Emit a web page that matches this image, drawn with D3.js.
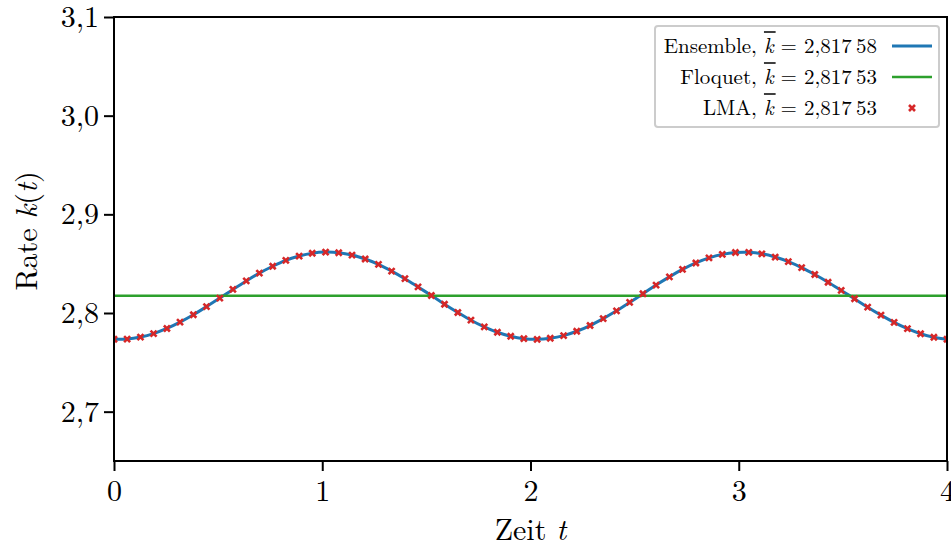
<!DOCTYPE html>
<html>
<head>
<meta charset="utf-8">
<script src="https://cdn.jsdelivr.net/npm/d3@7"></script>
<style>
  body { margin: 0; background: #fff; }
  svg { display: block; }
  text { font-family: "Latin Modern Roman", "CMU Serif", "Liberation Serif", serif; fill: #000; }
</style>
</head>
<body>
<script>
// time points of the LMA samples
var timeValues = [0, 0.063, 0.127, 0.190, 0.254, 0.317, 0.381, 0.444, 0.508, 0.571, 0.635, 0.698, 0.762, 0.825, 0.889, 0.952,
  1.016, 1.079, 1.143, 1.206, 1.270, 1.333, 1.397, 1.460, 1.524, 1.587, 1.651, 1.714, 1.778, 1.841, 1.905, 1.968,
  2.032, 2.095, 2.159, 2.222, 2.286, 2.349, 2.413, 2.476, 2.540, 2.603, 2.667, 2.730, 2.794, 2.857, 2.921, 2.984,
  3.048, 3.111, 3.175, 3.238, 3.302, 3.365, 3.429, 3.492, 3.556, 3.619, 3.683, 3.746, 3.810, 3.873, 3.937, 4.000]
// rate k(t)
var rateValues = [2.7734, 2.7736, 2.7756, 2.7791, 2.7843, 2.7907, 2.7982, 2.8064, 2.8151, 2.8239, 2.8325, 2.8404, 2.8474, 2.8533, 2.8577, 2.8606,
  2.8617, 2.8611, 2.8587, 2.8547, 2.8493, 2.8425, 2.8348, 2.8264, 2.8177, 2.8089, 2.8005, 2.7927, 2.7860, 2.7805, 2.7764, 2.7740,
  2.7733, 2.7744, 2.7771, 2.7815, 2.7873, 2.7943, 2.8022, 2.8107, 2.8195, 2.8283, 2.8366, 2.8442, 2.8507, 2.8558, 2.8594, 2.8613,
  2.8615, 2.8600, 2.8567, 2.8520, 2.8460, 2.8390, 2.8312, 2.8229, 2.8144, 2.8059, 2.7978, 2.7905, 2.7841, 2.7790, 2.7754, 2.7734]
var floquetValue = 2.81753
var legendNames = ['Ensemble', 'Floquet', 'LMA']
var legendValues = ['2,817\u200958', '2,817\u200953', '2,817\u200953']
var xTicks = [0, 1, 2, 3, 4]
var yTicks = [2.7, 2.8, 2.9, 3.0, 3.1]

var width = 951, height = 548
var margin = {top: 17, right: 4, bottom: 87, left: 114}
var plotW = width - margin.left - margin.right
var plotH = height - margin.top - margin.bottom

var svg = d3.select('body').append('svg').attr('width', width).attr('height', height)

var x = d3.scaleLinear().domain([0, 4]).range([0, plotW])
var y = d3.scaleLinear().domain([2.65, 3.1]).range([plotH, 0])

var g = svg.append('g').attr('transform', `translate(${margin.left},${margin.top})`)

var points = timeValues.map(function(t, i) { return {t: t, k: rateValues[i]} })

// clip
svg.append('clipPath').attr('id', 'clip').append('rect').attr('width', plotW).attr('height', plotH)
var plot = g.append('g').attr('clip-path', 'url(#clip)')

var line = d3.line().x(function(d) { return x(d.t) }).y(function(d) { return y(d.k) }).curve(d3.curveCatmullRom)

plot.append('path').datum(points)
    .attr('d', line)
    .attr('fill', 'none')
    .attr('stroke', '#1f77b4')
    .attr('stroke-width', 3)

plot.append('line')
    .attr('x1', x(0)).attr('x2', x(4))
    .attr('y1', y(floquetValue)).attr('y2', y(floquetValue))
    .attr('stroke', '#2ca02c')
    .attr('stroke-width', 2.6)

var cross = 'M-3,-3L3,3M-3,3L3,-3'
plot.selectAll('.lma').data(points).enter().append('path')
    .attr('class', 'lma')
    .attr('d', cross)
    .attr('transform', function(d) { return `translate(${x(d.t)},${y(d.k)})` })
    .attr('stroke', '#d62728')
    .attr('stroke-width', 2.6)
    .attr('fill', 'none')

// axes
var axisX = g.append('g').attr('transform', `translate(0,${plotH})`)
    .call(d3.axisBottom(x).tickValues(xTicks).tickSize(10).tickPadding(8).tickFormat(d3.format('d')))
var axisY = g.append('g')
    .call(d3.axisLeft(y).tickValues(yTicks).tickSize(10).tickPadding(5).tickFormat(function(d) { return d.toFixed(1).replace('.', ',') }))
;[axisX, axisY].forEach(function(a) {
  a.select('.domain').remove()
  a.selectAll('.tick line').attr('stroke', '#000').attr('stroke-width', 2)
  a.selectAll('.tick text').attr('font-size', 30).attr('font-family', null)
})
axisX.selectAll('.tick text').attr('dy', '0.72em')

// frame
g.append('rect').attr('width', plotW).attr('height', plotH)
    .attr('fill', 'none').attr('stroke', '#000').attr('stroke-width', 2)

// axis labels
var xl = svg.append('text').attr('x', margin.left + plotW / 2).attr('y', 540)
    .attr('text-anchor', 'middle').attr('font-size', 30)
xl.append('tspan').text('Zeit ')
xl.append('tspan').attr('font-style', 'italic').text('t')

var yl = svg.append('text').attr('transform', `translate(37,${margin.top + plotH / 2 - 8}) rotate(-90)`)
    .attr('text-anchor', 'middle').attr('font-size', 30)
yl.append('tspan').text('Rate ')
yl.append('tspan').attr('font-style', 'italic').text('k')
yl.append('tspan').text('(')
yl.append('tspan').attr('font-style', 'italic').text('t')
yl.append('tspan').text(')')

// legend
var legend = svg.append('g')
legend.append('rect').attr('x', 655).attr('y', 26).attr('width', 284).attr('height', 101)
    .attr('rx', 3).attr('fill', '#fff').attr('fill-opacity', 0.8)
    .attr('stroke', '#cccccc').attr('stroke-width', 2)

var rowY = [46, 77, 108]
legendNames.forEach(function(name, i) {
  var t = legend.append('text').attr('x', 877).attr('y', rowY[i]).attr('dy', '0.35em')
      .attr('text-anchor', 'end').attr('font-size', 21)
  t.append('tspan').text(name + ', ')
  t.append('tspan').attr('font-style', 'italic').text('k')
  t.append('tspan').text(' = ' + legendValues[i])
  // overline over k
  var node = t.node()
  var idx = (name + ', ').length
  var s = node.getStartPositionOfChar(idx), e = node.getEndPositionOfChar(idx)
  legend.append('line').attr('x1', s.x).attr('x2', e.x + 2)
      .attr('y1', rowY[i] - 14).attr('y2', rowY[i] - 14)
      .attr('stroke', '#000').attr('stroke-width', 1.5)
})
legend.append('line').attr('x1', 892).attr('x2', 932).attr('y1', rowY[0]).attr('y2', rowY[0])
    .attr('stroke', '#1f77b4').attr('stroke-width', 3)
legend.append('line').attr('x1', 892).attr('x2', 932).attr('y1', rowY[1]).attr('y2', rowY[1])
    .attr('stroke', '#2ca02c').attr('stroke-width', 2.6)
legend.append('path').attr('d', cross).attr('transform', `translate(912,${rowY[2]})`)
    .attr('stroke', '#d62728').attr('stroke-width', 2.6).attr('fill', 'none')
</script>
</body>
</html>
